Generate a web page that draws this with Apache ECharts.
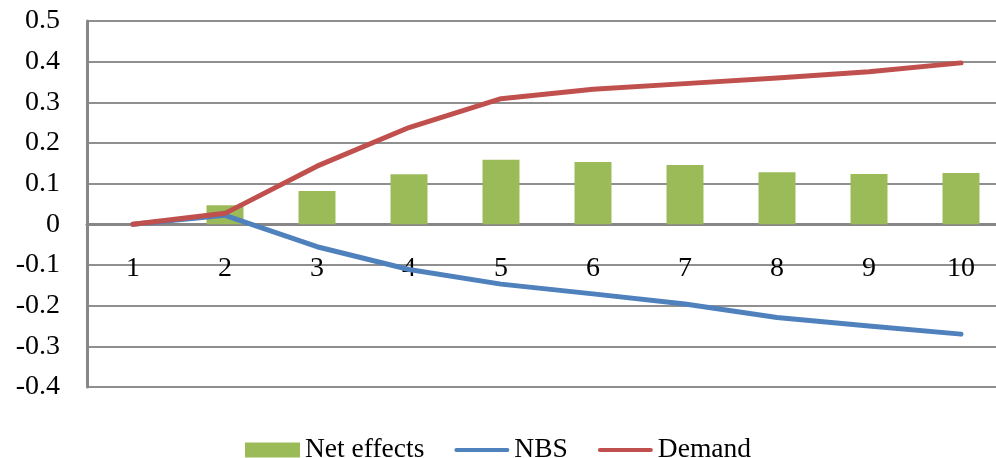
<!DOCTYPE html>
<html>
<head>
<meta charset="utf-8">
<script src="https://cdn.jsdelivr.net/npm/echarts@6/dist/echarts.min.js"></script>
<style>
  html, body { margin: 0; padding: 0; background: #fff; }
  #main { width: 996px; height: 458px; }
</style>
</head>
<body>
<div id="main"></div>
<script>
// data
var categories = ['1', '2', '3', '4', '5', '6', '7', '8', '9', '10'];
var netEffects = [0, 0.047, 0.082, 0.123, 0.159, 0.153, 0.146, 0.128, 0.124, 0.126];
var nbs = [0, 0.022, -0.055, -0.111, -0.147, -0.171, -0.196, -0.229, -0.250, -0.270];
var demand = [0, 0.027, 0.143, 0.238, 0.309, 0.332, 0.346, 0.360, 0.375, 0.397];
var yTicks = ['-0.4', '-0.3', '-0.2', '-0.1', '0', '0.1', '0.2', '0.3', '0.4', '0.5'];

var font = "'Liberation Serif', 'Times New Roman', serif";
var lineIcon = 'path://M2,0 L53,0 A2,2 0 0 1 53,4 L2,4 A2,2 0 0 1 2,0 Z';
var myChart = echarts.init(document.getElementById('main'));

var option = {
    animation: false,
    backgroundColor: '#fff',
    grid: {
        left: 87,
        top: 21,
        width: 920,
        height: 366,
        outerBoundsMode: 'none'
    },
    legend: {
        data: [
            { name: 'Net effects', icon: 'rect' },
            { name: 'NBS', icon: lineIcon },
            { name: 'Demand', icon: lineIcon }
        ],
        left: 'center',
        top: 431,
        itemWidth: 55,
        itemHeight: 15,
        itemGap: 30,
        symbolKeepAspect: true,
        textStyle: { fontFamily: font, fontSize: 27.5, color: '#000' }
    },
    xAxis: {
        type: 'category',
        data: categories,
        position: 'bottom',
        offset: -163,
        axisTick: { show: false },
        axisLine: {
            onZero: false,
            lineStyle: { color: '#878787', width: 3 }
        },
        axisLabel: {
            margin: 31,
            fontFamily: font,
            fontSize: 28,
            color: '#000'
        },
        splitLine: { show: false }
    },
    yAxis: {
        type: 'value',
        min: -0.4,
        max: 0.5,
        interval: 0.1,
        axisLine: { show: true, lineStyle: { color: '#878787', width: 3 } },
        axisTick: { show: false },
        axisLabel: {
            margin: 27,
            fontFamily: font,
            fontSize: 28,
            color: '#000',
            formatter: function (v) {
                var i = Math.round((v + 0.4) * 10);
                return yTicks[i];
            }
        },
        splitLine: { lineStyle: { color: '#8f8f8f', width: 2 } }
    },
    series: [
        {
            name: 'Net effects',
            type: 'bar',
            data: netEffects,
            barWidth: 37,
            itemStyle: { color: '#9BBB59' }
        },
        {
            name: 'NBS',
            type: 'line',
            data: nbs,
            symbol: 'none',
            lineStyle: { color: '#4F81BD', width: 5, cap: 'round', join: 'round' },
            itemStyle: { color: '#4F81BD' }
        },
        {
            name: 'Demand',
            type: 'line',
            data: demand,
            symbol: 'none',
            lineStyle: { color: '#C0504D', width: 5, cap: 'round', join: 'round' },
            itemStyle: { color: '#C0504D' }
        }
    ]
};
window.onresize = myChart.resize;
myChart.setOption(option);
</script>
</body>
</html>
